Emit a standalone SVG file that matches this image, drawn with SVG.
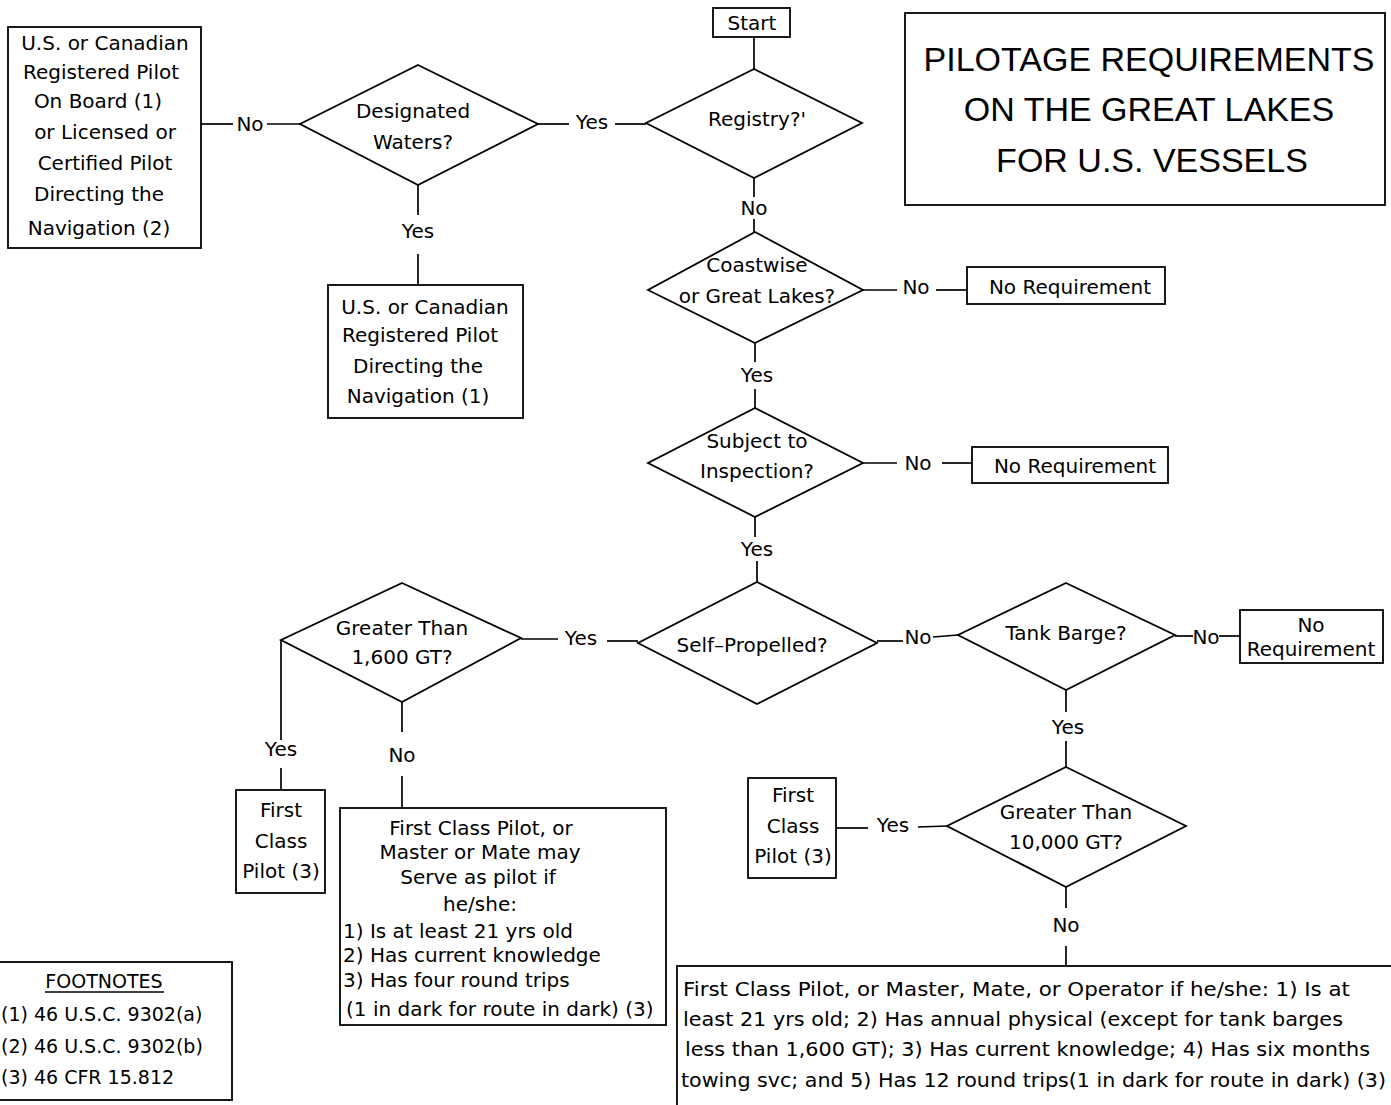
<svg xmlns="http://www.w3.org/2000/svg" width="1391" height="1105" viewBox="0 0 1391 1105">
<style>
.box{fill:#fff;stroke:#000;stroke-width:1.8}
.dia{fill:#fff;stroke:#000;stroke-width:1.8}
.ln{fill:none;stroke:#000;stroke-width:1.7}
text{font-family:"DejaVu Sans","Liberation Sans",Arial,sans-serif;font-size:20px;fill:#000}
.c{text-anchor:middle}
.title{font-family:"Liberation Sans",Arial,sans-serif;font-size:34px}
.fn{font-size:19px}
</style>
<rect width="1391" height="1105" fill="#fff"/>
<g id="connectors">
<line class="ln" x1="754" y1="37" x2="754" y2="69"/>
<line class="ln" x1="754" y1="178" x2="754" y2="197"/>
<line class="ln" x1="754" y1="219" x2="754" y2="232"/>
<text class="c" x="754" y="215">No</text>
<line class="ln" x1="538" y1="124" x2="569" y2="124"/>
<line class="ln" x1="615" y1="124" x2="646" y2="124"/>
<text class="c" x="592" y="129">Yes</text>
<line class="ln" x1="201" y1="124" x2="233" y2="124"/>
<line class="ln" x1="267" y1="124" x2="300" y2="124"/>
<text class="c" x="250" y="131">No</text>
<line class="ln" x1="418" y1="185" x2="418" y2="215"/>
<line class="ln" x1="418" y1="254" x2="418" y2="285"/>
<text class="c" x="418" y="238">Yes</text>
<line class="ln" x1="863" y1="290" x2="897" y2="290"/>
<line class="ln" x1="936" y1="290" x2="967" y2="290"/>
<text class="c" x="916" y="294">No</text>
<line class="ln" x1="755" y1="343" x2="755" y2="362"/>
<line class="ln" x1="755" y1="389" x2="755" y2="408"/>
<text class="c" x="757" y="382">Yes</text>
<line class="ln" x1="863" y1="463" x2="897" y2="463"/>
<line class="ln" x1="942" y1="463" x2="972" y2="463"/>
<text class="c" x="918" y="470">No</text>
<line class="ln" x1="755" y1="517" x2="755" y2="537"/>
<line class="ln" x1="757" y1="561" x2="757" y2="582"/>
<text class="c" x="757" y="556">Yes</text>
<line class="ln" x1="521" y1="639" x2="558" y2="639"/>
<line class="ln" x1="607" y1="641" x2="638" y2="641"/>
<text class="c" x="581" y="645">Yes</text>
<line class="ln" x1="281" y1="640" x2="281" y2="740"/>
<line class="ln" x1="281" y1="768" x2="281" y2="790"/>
<text class="c" x="281" y="756">Yes</text>
<line class="ln" x1="402" y1="702" x2="402" y2="732"/>
<line class="ln" x1="402" y1="776" x2="402" y2="808"/>
<text class="c" x="402" y="762">No</text>
<line class="ln" x1="877" y1="641" x2="903" y2="641"/>
<line class="ln" x1="933" y1="637" x2="958" y2="635"/>
<text class="c" x="918" y="644">No</text>
<line class="ln" x1="1175" y1="636" x2="1193" y2="636"/>
<line class="ln" x1="1219" y1="636" x2="1240" y2="636"/>
<text class="c" x="1206" y="644">No</text>
<line class="ln" x1="1066" y1="690" x2="1066" y2="712"/>
<line class="ln" x1="1066" y1="741" x2="1066" y2="767"/>
<text class="c" x="1068" y="734">Yes</text>
<line class="ln" x1="836" y1="828" x2="868" y2="828"/>
<line class="ln" x1="918" y1="827" x2="947" y2="826"/>
<text class="c" x="893" y="832">Yes</text>
<line class="ln" x1="1066" y1="887" x2="1066" y2="908"/>
<line class="ln" x1="1066" y1="946" x2="1066" y2="966"/>
<text class="c" x="1066" y="932">No</text>
</g>
<g id="title">
<rect class="box" x="905" y="13" width="480" height="192"/>
<text class="c title" x="1149" y="71">PILOTAGE REQUIREMENTS</text>
<text class="c title" x="1149" y="121">ON THE GREAT LAKES</text>
<text class="c title" x="1152" y="172">FOR U.S. VESSELS</text>
</g>
<g id="start">
<rect class="box" x="713" y="8" width="77" height="29"/>
<text class="c" x="752" y="30">Start</text>
</g>
<g id="registry">
<polygon class="dia" points="754,69 862,123 754,178 646,123"/>
<text class="c" x="757" y="126">Registry?'</text>
</g>
<g id="designated">
<polygon class="dia" points="418,65 538,124 418,185 300,124"/>
<text class="c" x="413" y="118">Designated</text>
<text class="c" x="413" y="149">Waters?</text>
</g>
<g id="pilot-onboard">
<rect class="box" x="8" y="27" width="193" height="221"/>
<text class="c" x="105" y="50">U.S. or Canadian</text>
<text class="c" x="101" y="79">Registered Pilot</text>
<text class="c" x="98" y="108">On Board (1)</text>
<text class="c" x="105" y="139">or Licensed or</text>
<text class="c" x="105" y="170">Certified Pilot</text>
<text class="c" x="99" y="201">Directing the</text>
<text class="c" x="99" y="235">Navigation (2)</text>
</g>
<g id="pilot-directing">
<rect class="box" x="328" y="285" width="195" height="133"/>
<text class="c" x="425" y="314">U.S. or Canadian</text>
<text class="c" x="420" y="342">Registered Pilot</text>
<text class="c" x="418" y="373">Directing the</text>
<text class="c" x="418" y="403">Navigation (1)</text>
</g>
<g id="coastwise">
<polygon class="dia" points="755,232 863,290 755,343 648,290"/>
<text class="c" x="757" y="272">Coastwise</text>
<text class="c" x="757" y="303">or Great Lakes?</text>
</g>
<g id="noreq1">
<rect class="box" x="967" y="267" width="198" height="37"/>
<text class="c" x="1070" y="294">No Requirement</text>
</g>
<g id="inspection">
<polygon class="dia" points="755,408 863,463 755,517 648,463"/>
<text class="c" x="757" y="448">Subject to</text>
<text class="c" x="757" y="478">Inspection?</text>
</g>
<g id="noreq2">
<rect class="box" x="972" y="447" width="196" height="36"/>
<text class="c" x="1075" y="473">No Requirement</text>
</g>
<g id="selfprop">
<polygon class="dia" points="757,582 877,643 757,704 638,643"/>
<text class="c" x="752" y="652">Self–Propelled?</text>
</g>
<g id="gt1600">
<polygon class="dia" points="402,583 521,638 402,702 281,640"/>
<text class="c" x="402" y="635">Greater Than</text>
<text class="c" x="402" y="664">1,600 GT?</text>
</g>
<g id="fcp1">
<rect class="box" x="236" y="790" width="89" height="103"/>
<text class="c" x="281" y="817">First</text>
<text class="c" x="281" y="848">Class</text>
<text class="c" x="281" y="878">Pilot (3)</text>
</g>
<g id="master-mate">
<rect class="box" x="340" y="808" width="326" height="217"/>
<text class="c" x="481" y="835">First Class Pilot, or</text>
<text class="c" x="480" y="859">Master or Mate may</text>
<text class="c" x="478" y="884">Serve as pilot if</text>
<text class="c" x="480" y="911">he/she:</text>
<text x="343" y="938">1) Is at least 21 yrs old</text>
<text x="343" y="962">2) Has current knowledge</text>
<text x="343" y="987">3) Has four round trips</text>
<text x="346" y="1016">(1 in dark for route in dark) (3)</text>
</g>
<g id="tankbarge">
<polygon class="dia" points="1066,583 1175,635 1066,690 958,635"/>
<text class="c" x="1066" y="640">Tank Barge?</text>
</g>
<g id="noreq3">
<rect class="box" x="1240" y="610" width="143" height="53"/>
<text class="c" x="1311" y="632">No</text>
<text class="c" x="1311" y="656">Requirement</text>
</g>
<g id="gt10000">
<polygon class="dia" points="1066,767 1186,826 1066,887 947,826"/>
<text class="c" x="1066" y="819">Greater Than</text>
<text class="c" x="1066" y="849">10,000 GT?</text>
</g>
<g id="fcp2">
<rect class="box" x="748" y="778" width="88" height="100"/>
<text class="c" x="793" y="802">First</text>
<text class="c" x="793" y="833">Class</text>
<text class="c" x="793" y="863">Pilot (3)</text>
</g>
<g id="master-mate-operator">
<rect class="box" x="677" y="966" width="720" height="145"/>
<text x="683" y="996" textLength="667" lengthAdjust="spacingAndGlyphs">First Class Pilot, or Master, Mate, or Operator if he/she:  1) Is at</text>
<text x="683" y="1026" textLength="660" lengthAdjust="spacingAndGlyphs">least 21 yrs old; 2) Has annual physical (except for tank barges</text>
<text x="685" y="1056" textLength="685" lengthAdjust="spacingAndGlyphs">less than 1,600 GT); 3) Has current knowledge; 4) Has six months</text>
<text x="681" y="1087" textLength="705" lengthAdjust="spacingAndGlyphs">towing svc; and 5) Has 12 round trips(1 in dark for route in dark) (3)</text>
</g>
<g id="footnotes">
<rect class="box" x="-2" y="962" width="234" height="138"/>
<text class="c fn" x="104" y="988">FOOTNOTES</text>
<line class="ln" x1="45" y1="992" x2="164" y2="992" style="stroke-width:1.3"/>
<text class="fn" x="1" y="1021">(1) 46 U.S.C. 9302(a)</text>
<text class="fn" x="1" y="1053">(2) 46 U.S.C. 9302(b)</text>
<text class="fn" x="1" y="1084">(3) 46 CFR 15.812</text>
</g>
</svg>
